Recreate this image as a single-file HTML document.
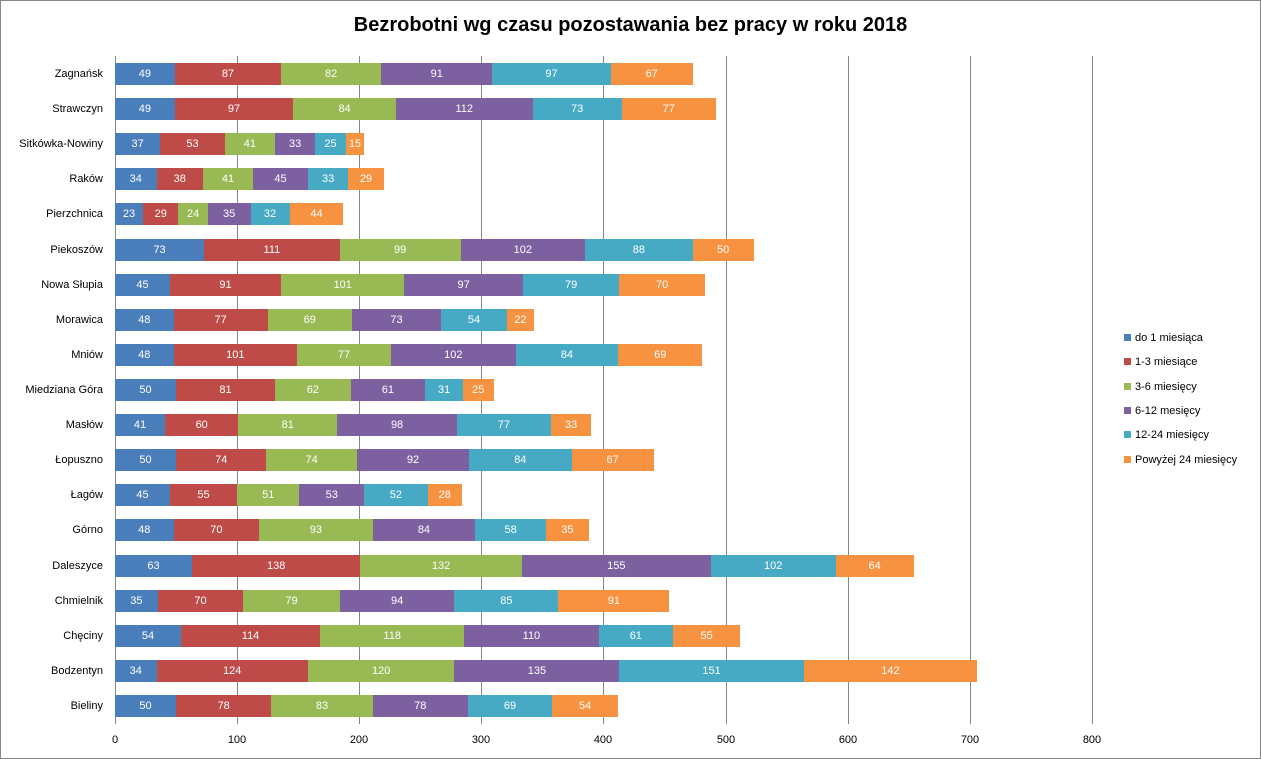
<!DOCTYPE html>
<html><head><meta charset="utf-8"><style>
body{margin:0;width:1261px;height:759px;background:#fff;font-family:"Liberation Sans",sans-serif;position:relative;overflow:hidden}
.frame{position:absolute;left:0;top:0;width:1259px;height:757px;border:1px solid #868686}
.t{position:absolute;left:0;width:1261px;top:14px;text-align:center;font-weight:bold;font-size:20px;color:#000}
.g{position:absolute;top:56px;height:668px;width:1px;background:#868686}
.r{position:absolute;left:115px;height:22px;display:flex}
.r div{height:22px;line-height:22px;text-align:center;color:#fff;font-size:11px;overflow:visible;white-space:nowrap}
.a{background:#4a7ebb}.b{background:#be4b48}.c{background:#98b954}.d{background:#7d60a0}.e{background:#46aac5}.f{background:#f69240}
.l{position:absolute;right:1158px;font-size:11px;height:22px;line-height:22px;text-align:right;white-space:nowrap}
.x{position:absolute;top:734px;font-size:11px;width:40px;margin-left:-20px;text-align:center}
.lg{position:absolute;left:1124px;font-size:11px;line-height:14px}
.lg span{display:inline-block;width:7px;height:7px;margin-right:4px}
</style></head><body>
<div class="frame"></div>
<div class="t">Bezrobotni wg czasu pozostawania bez pracy w roku 2018</div>
<div class="g" style="left:115px"></div>
<div class="g" style="left:237px"></div>
<div class="g" style="left:359px"></div>
<div class="g" style="left:481px"></div>
<div class="g" style="left:603px"></div>
<div class="g" style="left:726px"></div>
<div class="g" style="left:848px"></div>
<div class="g" style="left:970px"></div>
<div class="g" style="left:1092px"></div>
<div class="x" style="left:115px">0</div><div class="x" style="left:237px">100</div><div class="x" style="left:359px">200</div><div class="x" style="left:481px">300</div><div class="x" style="left:603px">400</div><div class="x" style="left:726px">500</div><div class="x" style="left:848px">600</div><div class="x" style="left:970px">700</div><div class="x" style="left:1092px">800</div>

<div class="l" style="top:63px">Zagnańsk</div>
<div class="r" style="top:63px"><div class="a" style="width:calc(49px*1.22125)">49</div><div class="b" style="width:calc(87px*1.22125)">87</div><div class="c" style="width:calc(82px*1.22125)">82</div><div class="d" style="width:calc(91px*1.22125)">91</div><div class="e" style="width:calc(97px*1.22125)">97</div><div class="f" style="width:calc(67px*1.22125)">67</div></div>
<div class="l" style="top:98px">Strawczyn</div>
<div class="r" style="top:98px"><div class="a" style="width:calc(49px*1.22125)">49</div><div class="b" style="width:calc(97px*1.22125)">97</div><div class="c" style="width:calc(84px*1.22125)">84</div><div class="d" style="width:calc(112px*1.22125)">112</div><div class="e" style="width:calc(73px*1.22125)">73</div><div class="f" style="width:calc(77px*1.22125)">77</div></div>
<div class="l" style="top:133px">Sitkówka-Nowiny</div>
<div class="r" style="top:133px"><div class="a" style="width:calc(37px*1.22125)">37</div><div class="b" style="width:calc(53px*1.22125)">53</div><div class="c" style="width:calc(41px*1.22125)">41</div><div class="d" style="width:calc(33px*1.22125)">33</div><div class="e" style="width:calc(25px*1.22125)">25</div><div class="f" style="width:calc(15px*1.22125)">15</div></div>
<div class="l" style="top:168px">Raków</div>
<div class="r" style="top:168px"><div class="a" style="width:calc(34px*1.22125)">34</div><div class="b" style="width:calc(38px*1.22125)">38</div><div class="c" style="width:calc(41px*1.22125)">41</div><div class="d" style="width:calc(45px*1.22125)">45</div><div class="e" style="width:calc(33px*1.22125)">33</div><div class="f" style="width:calc(29px*1.22125)">29</div></div>
<div class="l" style="top:203px">Pierzchnica</div>
<div class="r" style="top:203px"><div class="a" style="width:calc(23px*1.22125)">23</div><div class="b" style="width:calc(29px*1.22125)">29</div><div class="c" style="width:calc(24px*1.22125)">24</div><div class="d" style="width:calc(35px*1.22125)">35</div><div class="e" style="width:calc(32px*1.22125)">32</div><div class="f" style="width:calc(44px*1.22125)">44</div></div>
<div class="l" style="top:239px">Piekoszów</div>
<div class="r" style="top:239px"><div class="a" style="width:calc(73px*1.22125)">73</div><div class="b" style="width:calc(111px*1.22125)">111</div><div class="c" style="width:calc(99px*1.22125)">99</div><div class="d" style="width:calc(102px*1.22125)">102</div><div class="e" style="width:calc(88px*1.22125)">88</div><div class="f" style="width:calc(50px*1.22125)">50</div></div>
<div class="l" style="top:274px">Nowa Słupia</div>
<div class="r" style="top:274px"><div class="a" style="width:calc(45px*1.22125)">45</div><div class="b" style="width:calc(91px*1.22125)">91</div><div class="c" style="width:calc(101px*1.22125)">101</div><div class="d" style="width:calc(97px*1.22125)">97</div><div class="e" style="width:calc(79px*1.22125)">79</div><div class="f" style="width:calc(70px*1.22125)">70</div></div>
<div class="l" style="top:309px">Morawica</div>
<div class="r" style="top:309px"><div class="a" style="width:calc(48px*1.22125)">48</div><div class="b" style="width:calc(77px*1.22125)">77</div><div class="c" style="width:calc(69px*1.22125)">69</div><div class="d" style="width:calc(73px*1.22125)">73</div><div class="e" style="width:calc(54px*1.22125)">54</div><div class="f" style="width:calc(22px*1.22125)">22</div></div>
<div class="l" style="top:344px">Mniów</div>
<div class="r" style="top:344px"><div class="a" style="width:calc(48px*1.22125)">48</div><div class="b" style="width:calc(101px*1.22125)">101</div><div class="c" style="width:calc(77px*1.22125)">77</div><div class="d" style="width:calc(102px*1.22125)">102</div><div class="e" style="width:calc(84px*1.22125)">84</div><div class="f" style="width:calc(69px*1.22125)">69</div></div>
<div class="l" style="top:379px">Miedziana Góra</div>
<div class="r" style="top:379px"><div class="a" style="width:calc(50px*1.22125)">50</div><div class="b" style="width:calc(81px*1.22125)">81</div><div class="c" style="width:calc(62px*1.22125)">62</div><div class="d" style="width:calc(61px*1.22125)">61</div><div class="e" style="width:calc(31px*1.22125)">31</div><div class="f" style="width:calc(25px*1.22125)">25</div></div>
<div class="l" style="top:414px">Masłów</div>
<div class="r" style="top:414px"><div class="a" style="width:calc(41px*1.22125)">41</div><div class="b" style="width:calc(60px*1.22125)">60</div><div class="c" style="width:calc(81px*1.22125)">81</div><div class="d" style="width:calc(98px*1.22125)">98</div><div class="e" style="width:calc(77px*1.22125)">77</div><div class="f" style="width:calc(33px*1.22125)">33</div></div>
<div class="l" style="top:449px">Łopuszno</div>
<div class="r" style="top:449px"><div class="a" style="width:calc(50px*1.22125)">50</div><div class="b" style="width:calc(74px*1.22125)">74</div><div class="c" style="width:calc(74px*1.22125)">74</div><div class="d" style="width:calc(92px*1.22125)">92</div><div class="e" style="width:calc(84px*1.22125)">84</div><div class="f" style="width:calc(67px*1.22125)">67</div></div>
<div class="l" style="top:484px">Łagów</div>
<div class="r" style="top:484px"><div class="a" style="width:calc(45px*1.22125)">45</div><div class="b" style="width:calc(55px*1.22125)">55</div><div class="c" style="width:calc(51px*1.22125)">51</div><div class="d" style="width:calc(53px*1.22125)">53</div><div class="e" style="width:calc(52px*1.22125)">52</div><div class="f" style="width:calc(28px*1.22125)">28</div></div>
<div class="l" style="top:519px">Górno</div>
<div class="r" style="top:519px"><div class="a" style="width:calc(48px*1.22125)">48</div><div class="b" style="width:calc(70px*1.22125)">70</div><div class="c" style="width:calc(93px*1.22125)">93</div><div class="d" style="width:calc(84px*1.22125)">84</div><div class="e" style="width:calc(58px*1.22125)">58</div><div class="f" style="width:calc(35px*1.22125)">35</div></div>
<div class="l" style="top:555px">Daleszyce</div>
<div class="r" style="top:555px"><div class="a" style="width:calc(63px*1.22125)">63</div><div class="b" style="width:calc(138px*1.22125)">138</div><div class="c" style="width:calc(132px*1.22125)">132</div><div class="d" style="width:calc(155px*1.22125)">155</div><div class="e" style="width:calc(102px*1.22125)">102</div><div class="f" style="width:calc(64px*1.22125)">64</div></div>
<div class="l" style="top:590px">Chmielnik</div>
<div class="r" style="top:590px"><div class="a" style="width:calc(35px*1.22125)">35</div><div class="b" style="width:calc(70px*1.22125)">70</div><div class="c" style="width:calc(79px*1.22125)">79</div><div class="d" style="width:calc(94px*1.22125)">94</div><div class="e" style="width:calc(85px*1.22125)">85</div><div class="f" style="width:calc(91px*1.22125)">91</div></div>
<div class="l" style="top:625px">Chęciny</div>
<div class="r" style="top:625px"><div class="a" style="width:calc(54px*1.22125)">54</div><div class="b" style="width:calc(114px*1.22125)">114</div><div class="c" style="width:calc(118px*1.22125)">118</div><div class="d" style="width:calc(110px*1.22125)">110</div><div class="e" style="width:calc(61px*1.22125)">61</div><div class="f" style="width:calc(55px*1.22125)">55</div></div>
<div class="l" style="top:660px">Bodzentyn</div>
<div class="r" style="top:660px"><div class="a" style="width:calc(34px*1.22125)">34</div><div class="b" style="width:calc(124px*1.22125)">124</div><div class="c" style="width:calc(120px*1.22125)">120</div><div class="d" style="width:calc(135px*1.22125)">135</div><div class="e" style="width:calc(151px*1.22125)">151</div><div class="f" style="width:calc(142px*1.22125)">142</div></div>
<div class="l" style="top:695px">Bieliny</div>
<div class="r" style="top:695px"><div class="a" style="width:calc(50px*1.22125)">50</div><div class="b" style="width:calc(78px*1.22125)">78</div><div class="c" style="width:calc(83px*1.22125)">83</div><div class="d" style="width:calc(78px*1.22125)">78</div><div class="e" style="width:calc(69px*1.22125)">69</div><div class="f" style="width:calc(54px*1.22125)">54</div></div>

<div class="lg" style="top:331px"><span class="a"></span>do 1 miesiąca</div>
<div class="lg" style="top:355px"><span class="b"></span>1-3 miesiące</div>
<div class="lg" style="top:380px"><span class="c"></span>3-6 miesięcy</div>
<div class="lg" style="top:404px"><span class="d"></span>6-12 mesięcy</div>
<div class="lg" style="top:428px"><span class="e"></span>12-24 miesięcy</div>
<div class="lg" style="top:453px"><span class="f"></span>Powyżej 24 miesięcy</div>
</body></html>
